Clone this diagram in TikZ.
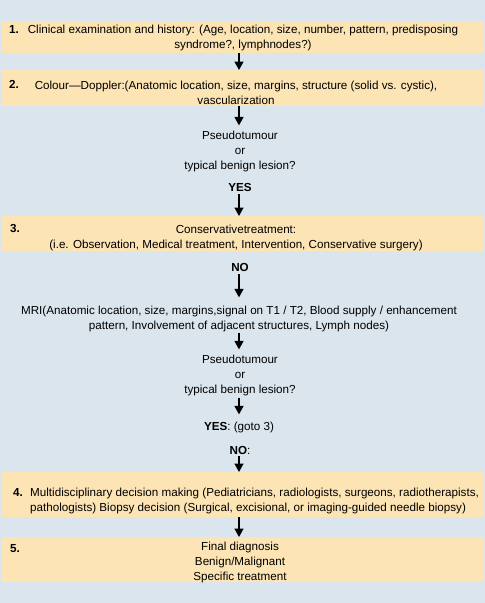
\documentclass[tikz,border=0pt]{standalone}
\usepackage{fontspec}
\setmainfont{Liberation Sans}
\usetikzlibrary{arrows.meta}
\definecolor{bgcol}{RGB}{219,229,237}
\definecolor{bandcol}{RGB}{252,228,180}
\newcommand{\dfont}{\fontsize{11.65}{15}\selectfont}
\begin{document}
\begin{tikzpicture}[x=1pt,y=-1pt,
  bandbox/.style={fill=bandcol, draw=none, minimum width=483pt, inner sep=0pt, outer sep=0pt, anchor=north west},
  txt/.style={font=\dfont, align=center, inner sep=0pt},
  ltxt/.style={font=\dfont, align=left, inner sep=0pt, anchor=west},
  num/.style={font=\dfont\bfseries, inner sep=0pt, anchor=west},
  arr/.style={line width=1.5pt, -{Triangle[width=9pt,length=8.5pt]}}]
\fill[bgcol] (0,0) rectangle (485,603);
\useasboundingbox (0,0) rectangle (485,603);
\coordinate (ax) at (239,0);
% band 1
\node[bandbox, minimum height=32pt] (b1) at (1,21) {};
\node[num] (n1) at (9,29) {1.};
\node[txt] (t1) at (243,38) {Clinical examination and history: (Age, location, size, number, pattern, predisposing\\syndrome?, lymphnodes?)};
% band 2
\node[bandbox, minimum height=36pt] (b2) at (1,70) {};
\node[num] (n2) at (9,84) {2.};
\node[txt] (t2) at (236,92.5) {Colour---Doppler:(Anatomic location, size, margins, structure (solid vs. cystic),\\vascularization};
% question 1
\node[txt] (q1) at (240,151) {Pseudotumour\\or\\typical benign lesion?};
\node[txt, font=\dfont\bfseries] (y1) at (240,187) {YES};
% band 3
\node[bandbox, minimum height=35pt] (b3) at (1,216) {};
\node[num] (n3) at (10,228) {3.};
\node[txt] (t3) at (236,237.5) {Conservativetreatment:\\(i.e. Observation, Medical treatment, Intervention, Conservative surgery)};
\node[txt, font=\dfont\bfseries] (no1) at (240,267) {NO};
% MRI
\node[txt] (mri) at (239,318.5) {MRI(Anatomic location, size, margins,signal on T1 / T2, Blood supply / enhancement\\pattern, Involvement of adjacent structures, Lymph nodes)};
\node[txt] (q2) at (240,375) {Pseudotumour\\or\\typical benign lesion?};
\node[txt] (y2) at (239,427) {\textbf{YES}: (goto 3)};
\node[txt] (no2) at (240,450) {\textbf{NO}:};
% band 4
\node[bandbox, minimum height=45pt] (b4) at (1,472) {};
\node[num] (n4) at (13,492) {4.};
\node[ltxt] (t4) at (30,500.5) {Multidisciplinary decision making (Pediatricians, radiologists, surgeons, radiotherapists,\\pathologists) Biopsy decision (Surgical, excisional, or imaging-guided needle biopsy)};
% band 5
\node[bandbox, minimum height=45pt] (b5) at (1,537) {};
\node[num] (n5) at (10,549) {5.};
\node[txt] (t5) at (240,562) {Final diagnosis\\Benign/Malignant\\Specific treatment};
% arrows
\draw[arr] (b1.south -| ax) -- (b2.north -| ax);
\draw[arr, shorten >=5pt] (b2.south -| ax) -- (q1.north -| ax);
\draw[arr, shorten <=3pt] (y1.south -| ax) -- (b3.north -| ax);
\draw[arr, shorten <=3pt, shorten >=8pt] (no1.south -| ax) -- (mri.north -| ax);
\draw[arr, shorten <=1pt, shorten >=5pt] (mri.south -| ax) -- (q2.north -| ax);
\draw[arr, shorten <=2pt, shorten >=7pt] (q2.south -| ax) -- (y2.north -| ax);
\draw[arr, shorten <=2pt] (no2.south -| ax) -- (b4.north -| ax);
\draw[arr] (b4.south -| ax) -- (b5.north -| ax);
\end{tikzpicture}
\end{document}
